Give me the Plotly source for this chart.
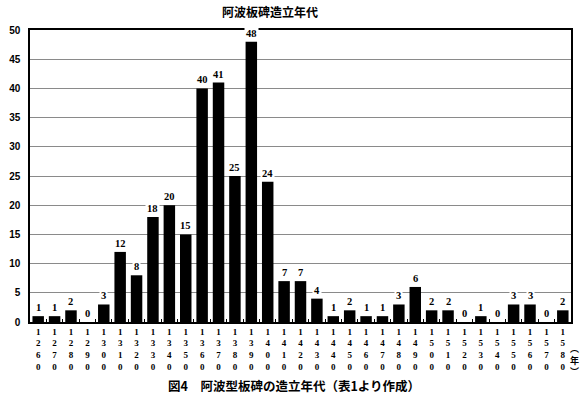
import plotly.graph_objects as go

years = [str(y) for y in range(1260, 1590, 10)]
counts = [1, 1, 2, 0, 3, 12, 8, 18, 20, 15, 40, 41, 25, 48, 24, 7, 7, 4, 1, 2,
          1, 1, 3, 6, 2, 2, 0, 1, 0, 3, 3, 0, 2]
tick_text = ["<br>".join(list(y)) for y in years]
y_ticks = list(range(0, 55, 5))

title = "阿波板碑造立年代"
caption = "図4　阿波型板碑の造立年代（表1より作成）"

W, H = 582, 398
ml, mr, mt, mb = 22, 9, 30, 76

fig = go.Figure()
fig.add_trace(go.Bar(x=years, y=counts, marker=dict(color="black", line=dict(width=0)),
                     width=0.7, hoverinfo="x+y"))

# value labels (x given as category index on the category axis)
for i, c in enumerate(counts):
    fig.add_annotation(x=i, y=c, text=str(c), showarrow=False, yanchor="bottom",
                       yshift=1, bgcolor="white", borderpad=1,
                       font=dict(family="Liberation Serif, DejaVu Serif", size=10.5,
                                 color="black", weight="bold"))

fig.add_annotation(xref="paper", yref="paper", x=(266 - ml) / (W - ml - mr),
                   y=1 + (mt - 11) / (H - mt - mb), text=title, showarrow=False,
                   xanchor="center", yanchor="middle",
                   font=dict(family="Noto Sans CJK JP", size=12, color="black", weight="bold"))
fig.add_annotation(xref="paper", yref="paper", x=(291 - ml) / (W - ml - mr),
                   y=-(385 - (H - mb)) / (H - mt - mb), text=caption, showarrow=False,
                   xanchor="center", yanchor="middle",
                   font=dict(family="Noto Sans CJK JP", size=12.5, color="black", weight="bold"))
fig.add_annotation(xref="paper", yref="paper", x=(577 - ml) / (W - ml - mr),
                   y=-(360 - (H - mb)) / (H - mt - mb), text="︵<br>年<br>︶", showarrow=False,
                   xanchor="center", yanchor="middle",
                   font=dict(family="Noto Sans CJK JP", size=9, color="black", weight="bold"))

fig.update_layout(
    width=W, height=H, margin=dict(l=ml, r=mr, t=mt, b=mb),
    plot_bgcolor="white", paper_bgcolor="white", showlegend=False, bargap=0.3,
)
fig.update_xaxes(type="category", range=[-0.5, len(years) - 0.5],
                 tickmode="array", tickvals=years, ticktext=tick_text,
                 tickson="boundaries", ticks="inside", ticklen=3, tickcolor="black",
                 showline=True, linecolor="black", linewidth=1.5, mirror=True,
                 showgrid=False,
                 tickfont=dict(family="Liberation Serif, DejaVu Serif", size=9,
                               color="black", weight="bold"))
fig.update_yaxes(range=[0, 50], tickmode="array", tickvals=y_ticks,
                 showline=True, linecolor="black", linewidth=1.5, mirror=True,
                 showgrid=True, gridcolor="#8a8a8a", gridwidth=1, zeroline=False,
                 ticks="", ticklabelstandoff=6,
                 tickfont=dict(family="Liberation Sans Narrow, Liberation Sans", size=10,
                               color="black", weight="bold"))

fig.write_html("out.html")
